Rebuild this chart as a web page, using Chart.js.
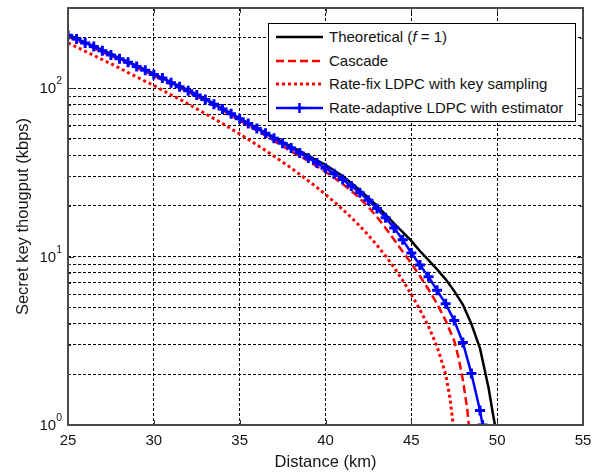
<!DOCTYPE html>
<html>
<head>
<meta charset="utf-8">
<script src="https://cdn.jsdelivr.net/npm/chart.js@4.4.1/dist/chart.umd.min.js"></script>
<style>
html,body{margin:0;padding:0;background:#fff;}
#wrap{position:relative;width:608px;height:475px;}
#legend{position:absolute;left:268px;top:23px;width:308px;height:99px;border:1px solid #000;background:#fff;box-sizing:border-box;font-family:'Liberation Sans',Arial,sans-serif;font-size:15px;color:#111;}
.row{position:absolute;left:0;height:20px;width:300px;}
.row svg{position:absolute;left:7px;top:0;}
.row span{position:absolute;left:60px;top:0;line-height:20px;white-space:nowrap;}
</style>
</head>
<body>
<div id="wrap">
<canvas id="c" width="608" height="475"></canvas>
<div id="legend">
  <div class="row" style="top:3px"><svg width="48" height="20"><line x1="0" y1="10" x2="47" y2="10" stroke="#000" stroke-width="2.5"/></svg><span>Theoretical (<i>f</i> = 1)</span></div>
  <div class="row" style="top:27px"><svg width="48" height="20"><line x1="0" y1="10" x2="47" y2="10" stroke="#f00" stroke-width="2.5" stroke-dasharray="8 4"/></svg><span>Cascade</span></div>
  <div class="row" style="top:50px"><svg width="48" height="20"><line x1="0" y1="10" x2="47" y2="10" stroke="#f00" stroke-width="3" stroke-dasharray="3 3"/></svg><span>Rate-fix LDPC with key sampling</span></div>
  <div class="row" style="top:74px"><svg width="48" height="20"><line x1="0" y1="10" x2="47" y2="10" stroke="#00f" stroke-width="2.5"/><line x1="18.5" y1="10" x2="28.5" y2="10" stroke="#00f" stroke-width="2.5"/><line x1="23.5" y1="5" x2="23.5" y2="15" stroke="#00f" stroke-width="2.5"/></svg><span>Rate-adaptive LDPC with estimator</span></div>
</div>
</div>
<script>
// ---- data (distance in km, throughput in kbps) ----
const xTicks = [25, 30, 35, 40, 45, 50, 55];
const yTickValues = [1,2,3,4,5,6,7,8,9,10,20,30,40,50,60,70,80,90,100,200,300];
const yLabelValues = [1, 10, 100];

const theoreticalKm = [25,25.5,26,26.5,27,27.5,28,28.5,29,29.5,30,30.5,31,31.5,32,32.5,33,33.5,34,34.5,35,35.5,36,36.5,37,37.5,38,38.5,39,39.5,40,40.5,41,41.5,42,42.5,43,43.5,44,44.5,45,45.5,46,46.5,47,47.5,48,48.5,49,49.5,49.75,49.87];
const theoreticalKbps = [208,198,187,178,169,160,151,144,136,129,122,115,109,103,97.5,91.8,86.3,81.0,75.9,71.0,66.4,62.1,58.1,54.5,51.1,47.9,45.0,42.3,39.7,37.3,35.1,32.5,30.1,27.4,24.8,22.4,20.0,17.8,15.7,14.0,12.4,10.8,9.55,8.41,7.33,6.24,5.19,3.98,2.85,1.66,1.17,1.0];

const cascadeKm = [25,25.5,26,26.5,27,27.5,28,28.5,29,29.5,30,30.5,31,31.5,32,32.5,33,33.5,34,34.5,35,35.5,36,36.5,37,37.5,38,38.5,39,39.5,40,40.5,41,41.5,42,42.5,43,43.5,44,44.5,45,45.5,46,46.5,47,47.5,47.75,48,48.25,48.35];
const cascadeKbps = [203,193,183,173,164,156,148,140,132,126,119,112,106,100.5,95.1,89.5,84.1,78.9,74.0,69.0,64.4,60.1,56.1,52.4,48.8,45.4,42.2,39.6,37.0,34.4,31.9,29.4,27.0,24.6,22.2,19.7,17.2,14.8,12.6,10.7,9.12,7.67,6.38,5.25,4.17,3.16,2.51,1.86,1.26,1.0];

const rateFixKm = [25,25.5,26,26.5,27,27.5,28,28.5,29,29.5,30,30.5,31,31.5,32,32.5,33,33.5,34,34.5,35,35.5,36,36.5,37,37.5,38,38.5,39,39.5,40,40.5,41,41.5,42,42.5,43,43.5,44,44.5,45,45.5,46,46.5,47,47.25,47.44];
const rateFixKbps = [186,176,166,157,148,140,132,124,117,110,104,97.5,91.6,86.1,80.7,75.5,70.6,66.1,61.7,57.5,53.6,49.8,46.1,42.8,39.5,36.5,33.6,30.8,28.2,25.8,23.4,21.2,19.1,17.1,15.2,13.4,11.7,10.1,8.61,7.21,5.96,4.84,3.85,2.92,2.0,1.45,1.0];

const adaptiveKm = [25,25.5,26,26.5,27,27.5,28,28.5,29,29.5,30,30.5,31,31.5,32,32.5,33,33.5,34,34.5,35,35.5,36,36.5,37,37.5,38,38.5,39,39.5,40,40.5,41,41.5,42,42.5,43,43.5,44,44.5,45,45.5,46,46.5,47,47.5,48,48.5,49,49.15];
const adaptiveKbps = [207,196,186,177,167,158,150,143,135,128,121,115,108,102,96.8,91.2,85.7,80.4,75.3,70.5,65.9,61.7,57.7,54.0,50.5,47.2,44.2,41.3,38.5,36.0,33.5,31.1,28.7,26.3,24.0,21.6,19.3,17.0,14.8,12.6,10.5,8.91,7.59,6.31,5.25,4.17,3.09,2.02,1.22,1.0];

const seriesNames = ['Theoretical (f = 1)', 'Cascade', 'Rate-fix LDPC with key sampling', 'Rate-adaptive LDPC with estimator'];

function pts(xs, ys){ return xs.map((x,i)=>({x:x, y:ys[i]})); }

const FONT = "'Liberation Sans', Arial, sans-serif";
const TEXT = '#141414';

const framePlugin = {
  id: 'frame',
  afterDatasetsDraw(chart){
    const {ctx, chartArea:a, scales:{x, y}} = chart;
    ctx.save();
    ctx.strokeStyle = '#333';
    ctx.lineWidth = 1;
    ctx.setLineDash([]);
    ctx.beginPath();
    xTicks.forEach(v=>{
      const px = Math.round(x.getPixelForValue(v)) + 0.5;
      ctx.moveTo(px, a.bottom); ctx.lineTo(px, a.bottom - 5);
      ctx.moveTo(px, a.top); ctx.lineTo(px, a.top + 5);
    });
    yTickValues.forEach(v=>{
      const py = Math.round(y.getPixelForValue(v)) + 0.5;
      const len = yLabelValues.includes(v) ? 6 : 3;
      ctx.moveTo(a.left, py); ctx.lineTo(a.left + len, py);
      ctx.moveTo(a.right, py); ctx.lineTo(a.right - len, py);
    });
    ctx.stroke();
    ctx.strokeStyle = '#4a4a4a';
    ctx.lineWidth = 2;
    ctx.strokeRect(a.left, a.top, a.right - a.left, a.bottom - a.top);
    ctx.restore();
  },
  afterDraw(chart){
    const {ctx, chartArea:a, scales:{y}} = chart;
    ctx.save();
    ctx.fillStyle = TEXT;
    yLabelValues.forEach(v=>{
      const py = y.getPixelForValue(v);
      const exp = String(Math.round(Math.log10(v)));
      ctx.font = '10.5px ' + FONT;
      const ew = ctx.measureText(exp).width;
      const right = a.left - 6;
      ctx.textAlign = 'right';
      ctx.textBaseline = 'middle';
      ctx.fillText(exp, right, py - 7);
      ctx.font = '15px ' + FONT;
      ctx.fillText('10', right - ew, py + 1);
    });
    ctx.restore();
  }
};

new Chart(document.getElementById('c'), {
  type: 'line',
  data: {
    datasets: [
      {label: seriesNames[3], data: pts(adaptiveKm, adaptiveKbps), borderColor:'#0000ff', backgroundColor:'#0000ff', borderWidth:2.5, pointStyle:'cross', pointRadius:5, pointBorderWidth:3, pointBorderColor:'#0000ff', tension:0, order:0},
      {label: seriesNames[2], data: pts(rateFixKm, rateFixKbps), borderColor:'#ff0000', borderWidth:3, borderDash:[3,3], borderCapStyle:'butt', pointRadius:0, tension:0, order:1},
      {label: seriesNames[1], data: pts(cascadeKm, cascadeKbps), borderColor:'#ff0000', borderWidth:2.5, borderDash:[8,4], borderCapStyle:'butt', pointRadius:0, tension:0, order:2},
      {label: seriesNames[0], data: pts(theoreticalKm, theoreticalKbps), borderColor:'#000000', borderWidth:2.5, pointRadius:0, tension:0, order:3}
    ]
  },
  options: {
    responsive: false,
    animation: false,
    devicePixelRatio: 1,
    layout: {padding: {top: 4, right: 25, left: 0, bottom: 0}},
    plugins: {legend: {display: false}, tooltip: {enabled: false}},
    scales: {
      x: {
        type: 'linear', min: 25, max: 55,
        afterBuildTicks(s){ s.ticks = xTicks.map(v=>({value:v})); },
        ticks: {font: {family: FONT, size: 15}, color: TEXT, padding: 7, autoSkip: false, maxRotation: 0},
        grid: {color: '#000', lineWidth: 1, drawTicks: false},
        border: {display: false, dash: [3,2]},
        title: {display: true, text: 'Distance (km)', font: {family: FONT, size: 16.5}, color: TEXT, padding: {top: 0, bottom: 3}},
        afterFit(s){ s.height = 50; }
      },
      y: {
        type: 'logarithmic', min: 1, max: 300,
        afterBuildTicks(s){ s.ticks = yTickValues.map(v=>({value:v})); },
        ticks: {display: false},
        grid: {color: '#000', lineWidth: 1, drawTicks: false},
        border: {display: false, dash: [3,2]},
        title: {display: true, text: 'Secret key thougput (kbps)', font: {family: FONT, size: 16.5}, color: TEXT, padding: {top: 14, bottom: 0}},
        afterFit(s){ s.width = 68; }
      }
    }
  },
  plugins: [framePlugin]
});
</script>
</body>
</html>
